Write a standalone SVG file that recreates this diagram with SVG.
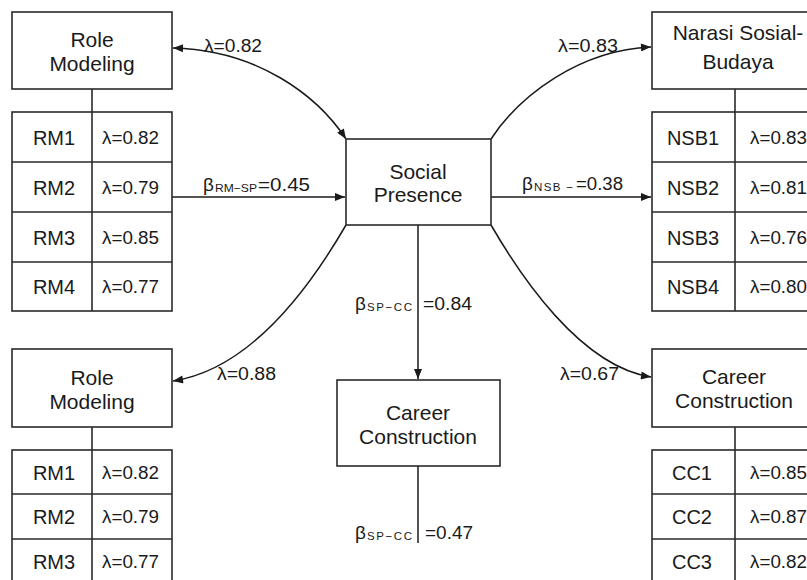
<svg xmlns="http://www.w3.org/2000/svg" width="807" height="580" viewBox="0 0 807 580">
<defs>
<marker id="ah" viewBox="0 0 10 8" refX="10" refY="4" markerWidth="11" markerHeight="8" markerUnits="userSpaceOnUse" orient="auto-start-reverse">
<path d="M0,0 L10,4 L0,8 Z" fill="#1a1a1a"/>
</marker>
</defs>
<style>
.box{fill:#fff;stroke:#2a2a2a;stroke-width:1.6}
.ln{stroke:#2a2a2a;stroke-width:1.6;fill:none}
.t{font-family:"Liberation Sans",Arial,sans-serif;fill:#1a1a1a}
.nt{font-size:21px;text-anchor:middle}
.it{font-size:20px;text-anchor:middle}
.lt{font-size:18px}
.el{font-size:18px}
.sub{font-size:11.5px}
.edge{stroke:#1a1a1a;stroke-width:1.5;fill:none}
</style>
<rect width="807" height="580" fill="#fff"/>

<g id="connectors">
<path class="edge" d="M346,139 C317,95 257,50 173,48" marker-start="url(#ah)" marker-end="url(#ah)"/>
<path class="edge" d="M491,139 C520,95 580,50 651,47" marker-end="url(#ah)"/>
<path class="edge" d="M172,197 L345,197" marker-end="url(#ah)"/>
<path class="edge" d="M491,197 L651,197" marker-end="url(#ah)"/>
<path class="edge" d="M346,225 C317,275 257,368 173,381" marker-end="url(#ah)"/>
<path class="edge" d="M491,225 C520,275 580,366 651,377" marker-end="url(#ah)"/>
<path class="edge" d="M418,225 L418,379" marker-end="url(#ah)"/>
<path class="edge" d="M418,466 L418,543"/>
<text class="t el" x="204" y="52" textLength="58" lengthAdjust="spacingAndGlyphs">λ=0.82</text>
<text class="t el" x="558" y="52" textLength="60" lengthAdjust="spacingAndGlyphs">λ=0.83</text>
<text class="t el" x="217" y="380" textLength="59" lengthAdjust="spacingAndGlyphs">λ=0.88</text>
<text class="t el" x="560" y="380" textLength="59" lengthAdjust="spacingAndGlyphs">λ=0.67</text>
<text class="t" x="203" y="191"><tspan font-size="19">β</tspan><tspan class="sub" dy="1" x="215" textLength="42" lengthAdjust="spacingAndGlyphs">RM−SP</tspan><tspan font-size="18" dy="-1" x="258" textLength="52" lengthAdjust="spacingAndGlyphs">=0.45</tspan></text>
<text class="t" x="522" y="190"><tspan font-size="19">β</tspan><tspan class="sub" dy="1" x="534" textLength="39" lengthAdjust="spacing">NSB −</tspan><tspan font-size="18" dy="-1" x="576" textLength="47" lengthAdjust="spacingAndGlyphs">=0.38</tspan></text>
<text class="t" x="355" y="310"><tspan font-size="19">β</tspan><tspan class="sub" dy="1" x="367" textLength="45" lengthAdjust="spacing">SP−CC</tspan><tspan font-size="18" dy="-1" x="423" textLength="49" lengthAdjust="spacingAndGlyphs">=0.84</tspan></text>
<text class="t" x="355" y="539"><tspan font-size="19">β</tspan><tspan class="sub" dy="1" x="367" textLength="45" lengthAdjust="spacing">SP−CC</tspan><tspan font-size="18" dy="-1" x="425" textLength="48" lengthAdjust="spacingAndGlyphs">=0.47</tspan></text>
</g>

<g id="social-presence">
<rect class="box" x="346" y="139" width="145" height="86"/>
<text class="t nt" x="418" y="179">Social</text>
<text class="t nt" x="418" y="202">Presence</text>
</g>

<g id="role-modeling-top">
<rect class="box" x="12" y="12" width="160" height="77"/>
<text class="t nt" x="92" y="47">Role</text>
<text class="t nt" x="92" y="71">Modeling</text>
<line class="ln" x1="92" y1="89" x2="92" y2="112"/>
</g>
<g id="rm-table-top">
<rect class="box" x="12" y="112" width="160" height="199"/>
<line class="ln" x1="12" y1="162" x2="172" y2="162"/>
<line class="ln" x1="12" y1="212" x2="172" y2="212"/>
<line class="ln" x1="12" y1="262" x2="172" y2="262"/>
<line class="ln" x1="92" y1="112" x2="92" y2="311"/>
<text class="t it" x="54" y="145">RM1</text>
<text class="t it" x="54" y="195">RM2</text>
<text class="t it" x="54" y="245">RM3</text>
<text class="t it" x="54" y="294">RM4</text>
<text class="t lt" x="102" y="144" textLength="57" lengthAdjust="spacingAndGlyphs">λ=0.82</text>
<text class="t lt" x="102" y="194" textLength="57" lengthAdjust="spacingAndGlyphs">λ=0.79</text>
<text class="t lt" x="102" y="244" textLength="57" lengthAdjust="spacingAndGlyphs">λ=0.85</text>
<text class="t lt" x="102" y="293" textLength="57" lengthAdjust="spacingAndGlyphs">λ=0.77</text>
</g>

<g id="narasi-sosial-budaya">
<rect class="box" x="652" y="12" width="175" height="77"/>
<text class="t nt" x="738" y="40">Narasi Sosial-</text>
<text class="t nt" x="738" y="69">Budaya</text>
<line class="ln" x1="735" y1="89" x2="735" y2="112"/>
</g>
<g id="nsb-table">
<rect class="box" x="652" y="112" width="175" height="199"/>
<line class="ln" x1="652" y1="162" x2="827" y2="162"/>
<line class="ln" x1="652" y1="212" x2="827" y2="212"/>
<line class="ln" x1="652" y1="262" x2="827" y2="262"/>
<line class="ln" x1="735" y1="112" x2="735" y2="311"/>
<text class="t it" x="693" y="145">NSB1</text>
<text class="t it" x="693" y="195">NSB2</text>
<text class="t it" x="693" y="245">NSB3</text>
<text class="t it" x="693" y="294">NSB4</text>
<text class="t lt" x="750" y="144" textLength="57" lengthAdjust="spacingAndGlyphs">λ=0.83</text>
<text class="t lt" x="750" y="194" textLength="57" lengthAdjust="spacingAndGlyphs">λ=0.81</text>
<text class="t lt" x="750" y="244" textLength="57" lengthAdjust="spacingAndGlyphs">λ=0.76</text>
<text class="t lt" x="750" y="293" textLength="57" lengthAdjust="spacingAndGlyphs">λ=0.80</text>
</g>

<g id="role-modeling-bottom">
<rect class="box" x="12" y="349" width="160" height="78"/>
<text class="t nt" x="92" y="385">Role</text>
<text class="t nt" x="92" y="409">Modeling</text>
<line class="ln" x1="92" y1="427" x2="92" y2="450"/>
</g>
<g id="rm-table-bottom">
<rect class="box" x="12" y="450" width="160" height="140"/>
<line class="ln" x1="12" y1="494" x2="172" y2="494"/>
<line class="ln" x1="12" y1="539" x2="172" y2="539"/>
<line class="ln" x1="92" y1="450" x2="92" y2="590"/>
<text class="t it" x="54" y="480">RM1</text>
<text class="t it" x="54" y="524">RM2</text>
<text class="t it" x="54" y="569">RM3</text>
<text class="t lt" x="102" y="479" textLength="57" lengthAdjust="spacingAndGlyphs">λ=0.82</text>
<text class="t lt" x="102" y="523" textLength="57" lengthAdjust="spacingAndGlyphs">λ=0.79</text>
<text class="t lt" x="102" y="568" textLength="57" lengthAdjust="spacingAndGlyphs">λ=0.77</text>
</g>

<g id="career-construction-center">
<rect class="box" x="337" y="380" width="163" height="86"/>
<text class="t nt" x="418" y="420">Career</text>
<text class="t nt" x="418" y="444">Construction</text>
</g>

<g id="career-construction-right">
<rect class="box" x="652" y="349" width="175" height="78"/>
<text class="t nt" x="734" y="384">Career</text>
<text class="t nt" x="734" y="408">Construction</text>
<line class="ln" x1="735" y1="427" x2="735" y2="450"/>
</g>
<g id="cc-table">
<rect class="box" x="652" y="450" width="175" height="140"/>
<line class="ln" x1="652" y1="494" x2="827" y2="494"/>
<line class="ln" x1="652" y1="539" x2="827" y2="539"/>
<line class="ln" x1="735" y1="450" x2="735" y2="590"/>
<text class="t it" x="692" y="480">CC1</text>
<text class="t it" x="692" y="524">CC2</text>
<text class="t it" x="692" y="569">CC3</text>
<text class="t lt" x="750" y="479" textLength="57" lengthAdjust="spacingAndGlyphs">λ=0.85</text>
<text class="t lt" x="750" y="523" textLength="57" lengthAdjust="spacingAndGlyphs">λ=0.87</text>
<text class="t lt" x="750" y="568" textLength="57" lengthAdjust="spacingAndGlyphs">λ=0.82</text>
</g>
</svg>
